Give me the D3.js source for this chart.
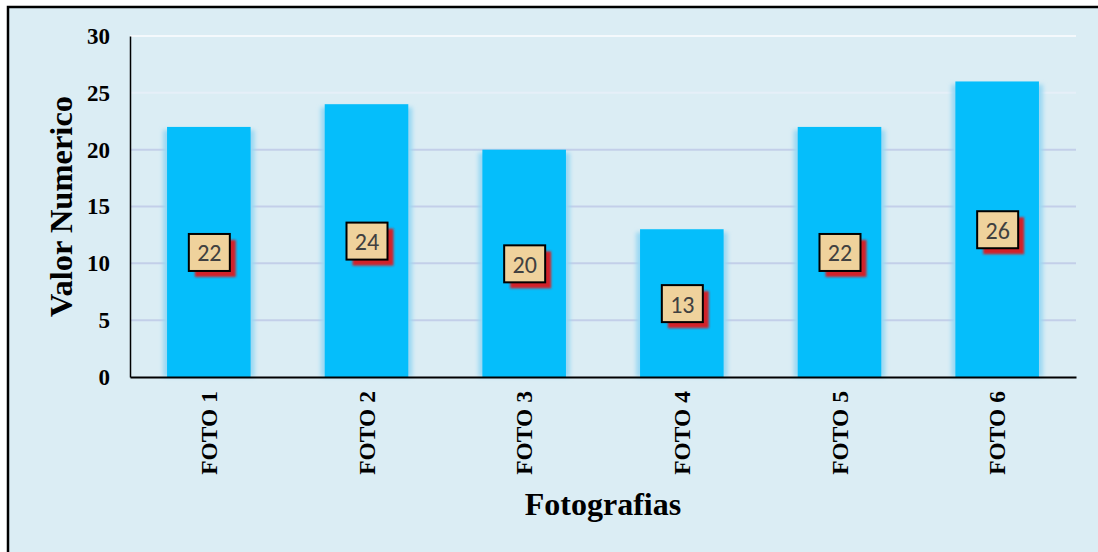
<!DOCTYPE html>
<html lang="es">
<head>
  <meta charset="UTF-8" />
  <title>Fotografias</title>
  <style>
    body { margin: 0; background: #fff; }
    .tick text { font-family: "Liberation Serif", "Times New Roman", serif; font-weight: bold; }
  </style>
</head>
<body>
  <svg width="1098" height="552"></svg>
  <script src="https://d3js.org/d3.v7.min.js"></script>
  <script>
    // datos del grafico
    const categorias = ["FOTO 1", "FOTO 2", "FOTO 3", "FOTO 4", "FOTO 5", "FOTO 6"];
    const valores = [22, 24, 20, 13, 22, 26];
    const ticksY = [0, 5, 10, 15, 20, 25, 30];

    const svg = d3.select("svg");
    const margin = { left: 130, right: 22, top: 36, bottom: 175 };
    const width = 1098, height = 552;

    // fondo y marco
    svg.append("rect")
      .attr("x", 8).attr("y", 7)
      .attr("width", width + 20).attr("height", height + 20)
      .attr("fill", "#dbedf4")
      .attr("stroke", "#000").attr("stroke-width", 2.5);

    const defs = svg.append("defs");

    const glow = defs.append("filter").attr("id", "glow")
      .attr("x", "-20%").attr("y", "-5%").attr("width", "140%").attr("height", "110%");
    glow.append("feGaussianBlur").attr("stdDeviation", 2);

    const shadow = defs.append("filter").attr("id", "sombra")
      .attr("x", "-30%").attr("y", "-30%").attr("width", "160%").attr("height", "160%");
    shadow.append("feGaussianBlur").attr("stdDeviation", 1.3);

    const x = d3.scaleBand()
      .domain(categorias)
      .range([margin.left, width - margin.right])
      .paddingInner(0.47)
      .paddingOuter(0.235);

    const y = d3.scaleLinear()
      .domain([0, 30])
      .range([height - margin.bottom, margin.top]);

    // lineas de cuadricula
    svg.append("g")
      .selectAll("line")
      .data(ticksY.filter(d => d > 0))
      .join("line")
      .attr("x1", margin.left).attr("x2", width - margin.right)
      .attr("y1", d => y(d)).attr("y2", d => y(d))
      .attr("stroke", d => d >= 30 ? "#f4f9fc" : d >= 25 ? "#e6eff8" : "#c3cfe9")
      .attr("stroke-width", 2);

    // barras con borde suave
    const bars = svg.append("g");
    bars.selectAll("rect.halo")
      .data(valores)
      .join("rect")
      .attr("class", "halo")
      .attr("x", (d, i) => x(categorias[i]) - 4)
      .attr("y", d => y(d) + 3)
      .attr("width", x.bandwidth() + 8)
      .attr("height", d => y(0) - y(d) - 3)
      .attr("fill", "#9ad8f3")
      .attr("filter", "url(#glow)");

    bars.selectAll("rect.bar")
      .data(valores)
      .join("rect")
      .attr("class", "bar")
      .attr("x", (d, i) => x(categorias[i]))
      .attr("y", d => y(d))
      .attr("width", x.bandwidth())
      .attr("height", d => y(0) - y(d))
      .attr("fill", "#05befb");

    // ejes
    const ejeY = svg.append("g")
      .attr("transform", `translate(${margin.left},0)`)
      .call(d3.axisLeft(y).tickValues(ticksY).tickSize(0).tickPadding(20));
    ejeY.select(".domain").attr("stroke", "#000").attr("stroke-width", 1.5);
    ejeY.selectAll("text").attr("font-size", 23).attr("fill", "#000");

    const ejeX = svg.append("g")
      .attr("transform", `translate(0,${y(0)})`)
      .call(d3.axisBottom(x).tickSize(0).tickSizeOuter(0));
    ejeX.select(".domain").attr("stroke", "#000").attr("stroke-width", 2);
    ejeX.selectAll("text")
      .attr("font-size", 23.5)
      .attr("fill", "#000")
      .attr("transform", "rotate(-90)")
      .attr("x", -14)
      .attr("y", 0)
      .attr("dy", "0.35em")
      .attr("text-anchor", "end");

    // etiquetas de datos
    const etiquetas = svg.append("g")
      .selectAll("g")
      .data(valores)
      .join("g")
      .attr("transform", (d, i) => `translate(${x(categorias[i]) + x.bandwidth() / 2},${y(d / 2)})`);

    etiquetas.append("rect")
      .attr("x", -14).attr("y", -12)
      .attr("width", 41).attr("height", 37)
      .attr("fill", "#d2232b")
      .attr("filter", "url(#sombra)");

    etiquetas.append("rect")
      .attr("x", -20).attr("y", -18)
      .attr("width", 41).attr("height", 37)
      .attr("fill", "#efd29c")
      .attr("stroke", "#000")
      .attr("stroke-width", 2);

    etiquetas.append("text")
      .attr("x", 0.5).attr("y", 1)
      .attr("dy", "0.35em")
      .attr("text-anchor", "middle")
      .attr("font-family", "Carlito, Calibri, 'Liberation Sans', sans-serif")
      .attr("font-size", 24)
      .attr("fill", "#404040")
      .text(d => d);

    // titulos de ejes
    svg.append("text")
      .attr("transform", `translate(72,${(margin.top + y(0)) / 2}) rotate(-90)`)
      .attr("text-anchor", "middle")
      .attr("font-family", "'Liberation Serif', 'Times New Roman', serif")
      .attr("font-weight", "bold")
      .attr("font-size", 32.5)
      .text("Valor Numerico");

    svg.append("text")
      .attr("x", 603).attr("y", 515)
      .attr("text-anchor", "middle")
      .attr("font-family", "'Liberation Serif', 'Times New Roman', serif")
      .attr("font-weight", "bold")
      .attr("font-size", 32)
      .text("Fotografias");
  </script>
</body>
</html>
